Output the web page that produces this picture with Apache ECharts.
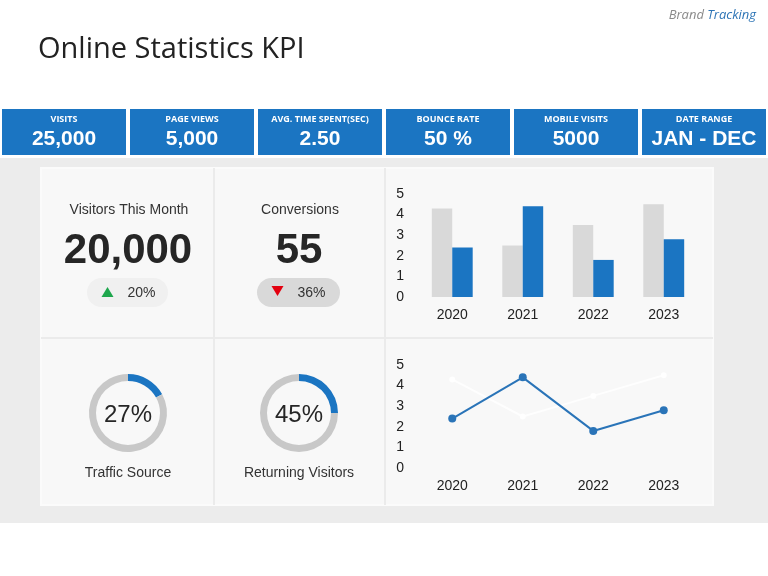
<!DOCTYPE html>
<html>
<head>
<meta charset="utf-8">
<script src="https://cdn.jsdelivr.net/npm/echarts@6/dist/echarts.min.js"></script>
<style>html,body{margin:0;padding:0;background:#fff}#c{width:768px;height:576px}</style>
</head>
<body>
<div id="c"></div>
<script>
// ---- data ----
const categories = ['2020', '2021', '2022', '2023'];
const barGrayValues = [4.3, 2.5, 3.5, 4.5];
const barBlueValues = [2.4, 4.4, 1.8, 2.8];
const lineBlueValues = [2.4, 4.4, 1.8, 2.8];
const lineWhiteValues = [4.3, 2.5, 3.5, 4.5];
const kpiLabels = ['VISITS', 'PAGE VIEWS', 'AVG. TIME SPENT(SEC)', 'BOUNCE RATE', 'MOBILE VISITS', 'DATE RANGE'];
const kpiValues = ['25,000', '5,000', '2.50', '50 %', '5000', 'JAN - DEC'];
const statTitles = ['Visitors This Month', 'Conversions'];
const statValues = ['20,000', '55'];
const statChanges = ['20%', '36%'];
const statDirections = ['up', 'down'];
const donutTitles = ['Traffic Source', 'Returning Visitors'];
const donutLabels = ['27%', '45%'];
const donutArcs = [17, 25]; // visible share of the blue arc

// ---- styling / layout ----
const BLUE = '#1b75c2';
const LINEBLUE = '#2a74b8';
const GRAY = '#d9d9d9';
const FONT = '"Liberation Sans", Arial, sans-serif';

const chart = echarts.init(document.getElementById('c'), null, {renderer: 'canvas'});
const g = [];

// title & brand
g.push({type: 'text', z: 10, style: {text: 'Online Statistics KPI', x: 38, y: 50, textVerticalAlign: 'middle',
  font: '29px "Open Sans", sans-serif', fill: '#222'}});
g.push({type: 'text', z: 10, style: {text: '{a|Brand} {b|Tracking}', x: 756, y: 15, align: 'right', verticalAlign: 'middle',
  rich: {a: {font: 'italic 13px "Open Sans", sans-serif', fill: '#8a8a8a'}, b: {font: 'italic 13px "Open Sans", sans-serif', fill: '#2e75b6'}}}});

// KPI boxes
kpiLabels.forEach((lab, i) => {
  const x = 2 + i * 128;
  g.push({type: 'rect', z: 1, shape: {x: x, y: 109, width: 124, height: 46}, style: {fill: BLUE}});
  g.push({type: 'text', z: 10, style: {text: lab, x: x + 62, y: 119, textAlign: 'center', textVerticalAlign: 'middle',
    font: 'bold 9px "Open Sans", sans-serif', fill: '#fff'}});
  g.push({type: 'text', z: 10, style: {text: kpiValues[i], x: x + 62, y: 139, textAlign: 'center', textVerticalAlign: 'middle',
    font: 'bold 21px ' + FONT, fill: '#fff'}});
});

// background band & panel
g.push({type: 'rect', z: -10, shape: {x: 0, y: 158, width: 768, height: 365}, style: {fill: '#ececec'}});
g.push({type: 'rect', z: -9, shape: {x: 41, y: 168, width: 672, height: 337}, style: {fill: '#f8f8f8', stroke: '#fbfbfb', lineWidth: 2}});
[[214, 168, 214, 505], [385, 168, 385, 505], [41, 338, 713, 338]].forEach(l => {
  g.push({type: 'line', z: -8, shape: {x1: l[0], y1: l[1], x2: l[2], y2: l[3]}, style: {stroke: '#ebebeb', lineWidth: 2}});
});

// stats
const statCx = [128, 299];
statTitles.forEach((t, i) => {
  const cx = statCx[i];
  g.push({type: 'text', z: 10, style: {text: t, x: cx + 1, y: 210, textAlign: 'center', textVerticalAlign: 'middle', font: '14px ' + FONT, fill: '#333'}});
  g.push({type: 'text', z: 10, style: {text: statValues[i], x: cx, y: 251, textAlign: 'center', textVerticalAlign: 'middle', font: 'bold 42px ' + FONT, fill: '#262626'}});
  const up = statDirections[i] === 'up';
  const px = up ? 87 : 257;
  const pw = up ? 81 : 83;
  g.push({type: 'rect', z: 1, shape: {x: px, y: 278, width: pw, height: 29, r: 14.5}, style: {fill: up ? '#f0f0f0' : '#d9d9d9'}});
  const tx = up ? 107.5 : 277.5;
  g.push({type: 'polygon', z: 10, shape: {points: up ? [[tx - 6, 297], [tx + 6, 297], [tx, 287]] : [[tx - 6, 286], [tx + 6, 286], [tx, 296]]},
    style: {fill: up ? '#1ea64c' : '#e3000f'}});
  g.push({type: 'text', z: 10, style: {text: statChanges[i], x: up ? 127.5 : 297.5, y: 293, textVerticalAlign: 'middle', font: '14px ' + FONT, fill: '#333'}});
});

// donut texts
const donutCx = [128, 299];
donutLabels.forEach((t, i) => {
  g.push({type: 'text', z: 10, style: {text: t, x: donutCx[i], y: 415, textAlign: 'center', textVerticalAlign: 'middle', font: '24px ' + FONT, fill: '#262626'}});
  g.push({type: 'text', z: 10, style: {text: donutTitles[i], x: donutCx[i], y: 473, textAlign: 'center', textVerticalAlign: 'middle', font: '14px ' + FONT, fill: '#333'}});
});

const axisLabel = {fontSize: 14, color: '#222', fontFamily: FONT};
const option = {
  animation: false,
  graphic: g,
  grid: [
    {left: 417, right: 69, top: 194, bottom: 279},
    {left: 417, right: 69, top: 365, bottom: 108}
  ],
  xAxis: [
    {gridIndex: 0, type: 'category', data: categories, axisLine: {show: false}, axisTick: {show: false}, axisLabel: Object.assign({margin: 11}, axisLabel)},
    {gridIndex: 1, type: 'category', data: categories, axisLine: {show: false}, axisTick: {show: false}, axisLabel: Object.assign({margin: 11}, axisLabel)}
  ],
  yAxis: [
    {gridIndex: 0, type: 'value', min: 0, max: 5, interval: 1, splitLine: {show: false}, axisLine: {show: false}, axisTick: {show: false}, axisLabel: Object.assign({margin: 13, fontSize: 15}, axisLabel)},
    {gridIndex: 1, type: 'value', min: 0, max: 5, interval: 1, splitLine: {show: false}, axisLine: {show: false}, axisTick: {show: false}, axisLabel: Object.assign({margin: 13, fontSize: 15}, axisLabel)}
  ],
  series: [
    {type: 'bar', xAxisIndex: 0, yAxisIndex: 0, data: barGrayValues, itemStyle: {color: GRAY}, barGap: '0%', barCategoryGap: '42%', silent: true},
    {type: 'bar', xAxisIndex: 0, yAxisIndex: 0, data: barBlueValues, itemStyle: {color: BLUE}, barGap: '0%', barCategoryGap: '42%', silent: true},
    {type: 'line', xAxisIndex: 1, yAxisIndex: 1, data: lineWhiteValues, lineStyle: {color: '#ffffff', width: 2, opacity: 0.8}, itemStyle: {color: '#ffffff', opacity: 0.9}, symbol: 'circle', symbolSize: 6, silent: true},
    {type: 'line', xAxisIndex: 1, yAxisIndex: 1, data: lineBlueValues, lineStyle: {color: LINEBLUE, width: 2}, itemStyle: {color: LINEBLUE}, symbol: 'circle', symbolSize: 8, silent: true},
    {type: 'pie', center: [128, 413], radius: [32, 39], startAngle: 90, clockwise: true, label: {show: false}, labelLine: {show: false}, silent: true,
      data: [{value: donutArcs[0], itemStyle: {color: BLUE}}, {value: 100 - donutArcs[0], itemStyle: {color: '#c8c8c8'}}]},
    {type: 'pie', center: [299, 413], radius: [32, 39], startAngle: 90, clockwise: true, label: {show: false}, labelLine: {show: false}, silent: true,
      data: [{value: donutArcs[1], itemStyle: {color: BLUE}}, {value: 100 - donutArcs[1], itemStyle: {color: '#c8c8c8'}}]}
  ]
};
chart.setOption(option);
</script>
</body>
</html>
